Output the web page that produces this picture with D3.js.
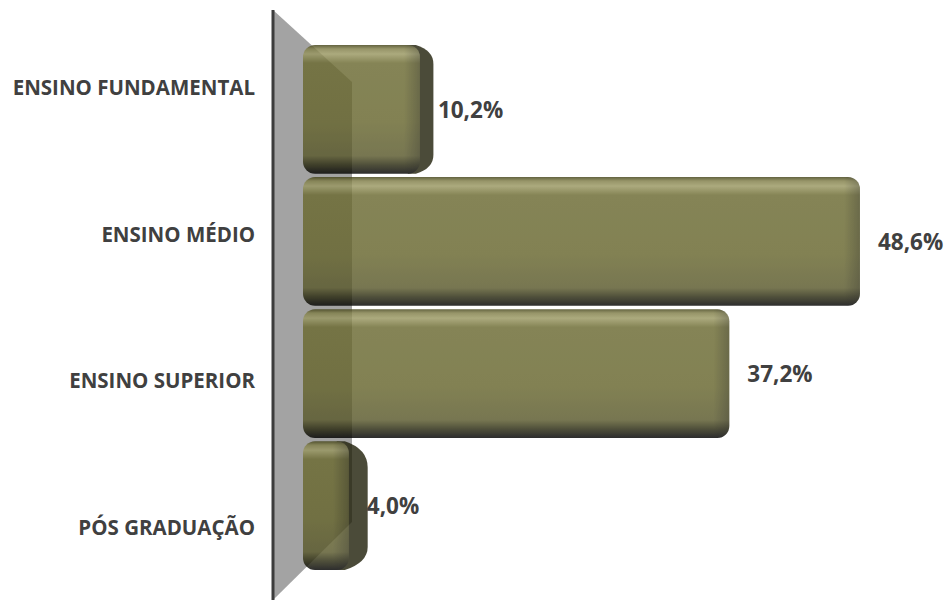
<!DOCTYPE html>
<html><head><meta charset="utf-8">
<script src="https://cdn.jsdelivr.net/npm/d3@7/dist/d3.min.js"></script>
<style>html,body{margin:0;padding:0;background:#fff;}svg{display:block;}</style>
</head><body>
<svg id="chart" width="952" height="601"></svg>
<script>
const categories = ["ENSINO FUNDAMENTAL", "ENSINO MÉDIO", "ENSINO SUPERIOR", "PÓS GRADUAÇÃO"];
const values = [10.2, 48.6, 37.2, 4.0];
const valueLabels = ["10,2%", "48,6%", "37,2%", "4,0%"];

const W = 952, H = 601;
const svg = d3.select("#chart");
const defs = svg.append("defs");

const x = d3.scaleLinear().domain([0, 50]).range([303, 876]);
const yBar = d3.scaleBand().domain(categories).range([45, 570]).paddingInner(0.025);
const yLab = d3.scaleBand().domain(categories).range([14, 600]);

const axisX = 273, wallTop = 10, wallBottom = 600, wallRight = 352;

// back wall
svg.append("polygon")
  .attr("points", [[axisX, wallTop], [wallRight, 82], [wallRight, 522], [axisX, wallBottom]].map(p => p.join(",")).join(" "))
  .attr("fill", "#a3a3a3");

// vertical gradient for bar faces (colors pre-compensated for group opacity)
const vg = defs.append("linearGradient").attr("id", "vg").attr("x1", 0).attr("y1", 0).attr("x2", 0).attr("y2", 1);
[[0, "#424217"], [0.03, "#807e48"], [0.07, "#9a9862"], [0.14, "#6b6a31"], [0.6, "#67662e"], [0.86, "#5a592c"], [0.93, "#2a2a10"], [1, "#000000"]]
  .forEach(([o, c]) => vg.append("stop").attr("offset", o).attr("stop-color", c));

const g = svg.append("g").attr("opacity", 0.82);

categories.forEach((cat, i) => {
  const v = values[i];
  const x0 = x(0), x1 = x(v);
  const y0 = yBar(cat), y1 = y0 + yBar.bandwidth();
  const s = Math.max(0, (600 - x1) * 0.075);
  // depth side
  if (s > 0) {
    g.append("path")
      .attr("d", `M${x1 - 12},${y0} L${x1 - 4},${y0} Q${x1 + s},${y0 + s * 0.4} ${x1 + s},${y0 + s * 1.4} L${x1 + s},${y1 - 8 - s * 0.8} Q${x1 + s},${y1 - s * 0.4} ${x1 - 4},${y1} L${x1 - 12},${y1} Z`)
      .attr("fill", "#24240e");
  }
  g.append("rect")
    .attr("x", x0).attr("y", y0)
    .attr("width", x1 - x0).attr("height", y1 - y0)
    .attr("rx", 12).attr("ry", 12)
    .attr("fill", "url(#vg)");
  // right edge shading
  const hg = defs.append("linearGradient").attr("id", "hg" + i)
    .attr("gradientUnits", "userSpaceOnUse")
    .attr("x1", x1 - 16).attr("x2", x1).attr("y1", 0).attr("y2", 0);
  hg.append("stop").attr("offset", 0).attr("stop-color", "#000").attr("stop-opacity", 0);
  hg.append("stop").attr("offset", 1).attr("stop-color", "#000").attr("stop-opacity", 0.3);
  g.append("rect")
    .attr("x", x0).attr("y", y0)
    .attr("width", x1 - x0).attr("height", y1 - y0)
    .attr("rx", 12).attr("ry", 12)
    .attr("fill", `url(#hg${i})`);
});

// axis line
svg.append("line")
  .attr("x1", axisX).attr("x2", axisX).attr("y1", wallTop).attr("y2", wallBottom)
  .attr("stroke", "#3c3c3c").attr("stroke-width", 3);

// category labels
svg.append("g").selectAll("text").data(categories).join("text")
  .attr("x", 255)
  .attr("y", d => yLab(d) + yLab.bandwidth() / 2)
  .attr("text-anchor", "end")
  .attr("dominant-baseline", "central")
  .attr("font-family", "'Open Sans', sans-serif")
  .attr("font-weight", 700)
  .attr("font-size", 20.5)
  .attr("fill", "#404040")
  .text(d => d);

// value labels
svg.append("g").selectAll("text").data(categories).join("text")
  .attr("x", (d, i) => x(values[i]) + 18)
  .attr("y", d => yBar(d) + yBar.bandwidth() / 2)
  .attr("dominant-baseline", "central")
  .attr("font-family", "'Open Sans', sans-serif")
  .attr("font-weight", 700)
  .attr("font-size", 22.5)
  .attr("fill", "#404040")
  .text((d, i) => valueLabels[i]);
</script>
</body></html>
